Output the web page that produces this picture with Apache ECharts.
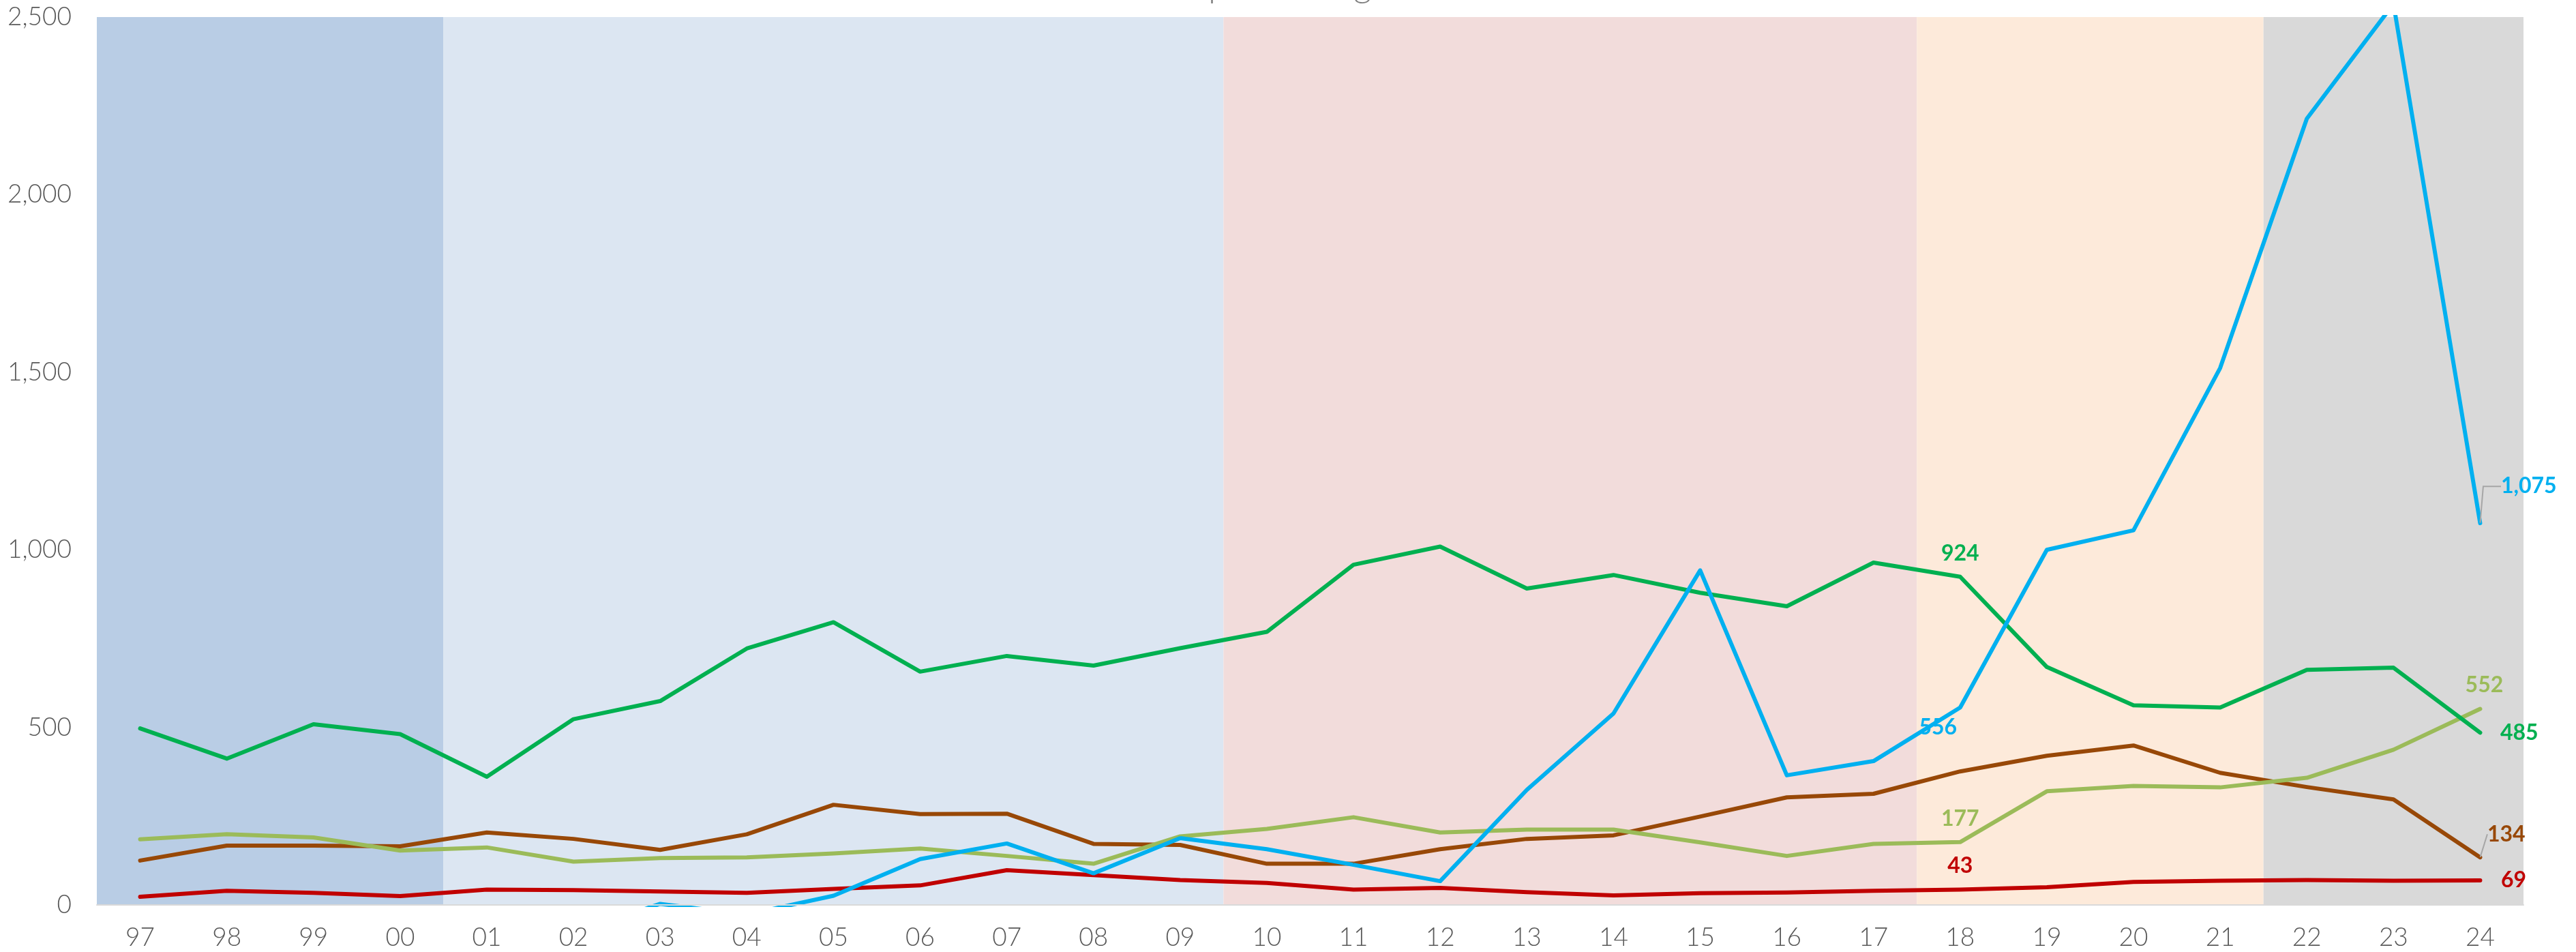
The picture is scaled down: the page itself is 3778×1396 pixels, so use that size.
<!DOCTYPE html>
<html>
<head>
<meta charset="utf-8">
<script src="https://cdn.jsdelivr.net/npm/echarts@6/dist/echarts.min.js"></script>
<style>
  html, body { margin: 0; padding: 0; background: #ffffff; }
  #chart { width: 3778px; height: 1396px; }
</style>
</head>
<body>
<div id="chart"></div>
<script>
// ---- data ----
const categories = ['97','98','99','00','01','02','03','04','05','06','07','08','09','10','11','12','13','14','15','16','17','18','19','20','21','22','23','24'];
const titleText = 'Import Categories';
const yMin = 0, yMax = 2500, yStep = 500;

const eraStart = ['97','01','10','18','22'];
const eraEnd   = ['00','09','17','21','24'];

const greenValues = [497,412,509,481,361,523,574,722,796,657,701,674,723,769,958,1009,891,929,879,841,964,924,670,562,556,662,668,485];
const blueValues  = [null,null,null,null,null,-78,3,-27,26,129,173,89,188,157,113,67,324,539,942,365,405,556,1000,1055,1512,2214,2537,1075];
const brownValues = [125,167,167,165,204,186,155,199,282,256,257,172,169,116,116,157,186,196,249,303,313,376,420,449,372,332,297,134];
const lightGreenValues = [185,199,190,153,162,122,132,134,145,159,138,116,193,214,247,204,212,212,176,138,172,177,320,335,331,358,437,552];
const redValues   = [23,40,34,25,43,42,38,34,45,55,98,84,70,62,43,48,36,27,33,35,40,43,50,65,68,70,68,69];

// labelled points (category of each annotated value)
const labelledGreen = ['18','24'];
const labelledBlue = ['18','24'];
const labelledBrown = ['24'];
const labelledLightGreen = ['18','24'];
const labelledRed = ['18','24'];

// ---- styles ----
const eraColors = ['#B9CDE5','#DCE6F2','#F2DCDB','#FDEADA','#D9D9D9'];
const FONT = 'Lato, "Open Sans", sans-serif';
const fmt = v => Math.round(v).toLocaleString('en-US');

function buildData(values, labelled, color, specs) {
  return values.map((v, i) => {
    const cat = categories[i];
    const k = labelled.indexOf(cat);
    if (k < 0 || v == null) return v;
    const s = specs[k];
    const item = {
      value: v,
      label: Object.assign({
        show: true,
        color: color,
        fontFamily: FONT,
        fontWeight: 'bold',
        fontSize: 32,
        formatter: p => fmt(p.value)
      }, s.label)
    };
    if (s.labelLine) {
      item.labelLine = Object.assign({ show: true, lineStyle: { color: '#A6A6A6', width: 2 } }, s.labelLine);
    }
    return item;
  });
}

function lineSeries(name, values, color, width, labelled, specs, layout) {
  const s = {
    name: name,
    type: 'line',
    data: buildData(values, labelled, color, specs),
    symbol: 'circle',
    symbolSize: 1,
    showSymbol: true,
    showAllSymbol: true,
    itemStyle: { color: color },
    lineStyle: { color: color, width: width, join: 'round', cap: 'round' },
    clip: true,
    silent: true,
    animation: false,
    z: 3
  };
  if (layout) s.labelLayout = layout;
  return s;
}

const idx24 = categories.indexOf('24');

const eraAreas = eraStart.map((s, i) => [
  { xAxis: categories.indexOf(s) - 0.5, itemStyle: { color: eraColors[i] } },
  { xAxis: categories.indexOf(eraEnd[i]) + 0.5 }
]);

const option = {
  backgroundColor: '#ffffff',
  animation: false,
  title: {
    text: titleText,
    left: 1717,
    top: -51,
    padding: 0,
    textStyle: { fontFamily: FONT, fontWeight: 300, fontSize: 52, lineHeight: 60, color: '#7F7F7F' }
  },
  grid: { left: 142, right: 77, top: 25, bottom: 69, containLabel: false },
  xAxis: [
    {
      type: 'category',
      data: categories,
      boundaryGap: true,
      axisLine: { show: true, lineStyle: { color: '#D9D9D9', width: 2 } },
      axisTick: { show: false },
      axisLabel: { color: '#595959', fontFamily: FONT, fontWeight: 300, fontSize: 37, margin: 30 },
      splitLine: { show: false },
      z: 4
    },
    {
      type: 'value',
      min: -0.5,
      max: categories.length - 0.5,
      show: false
    }
  ],
  yAxis: {
    type: 'value',
    min: yMin,
    max: yMax,
    interval: yStep,
    axisLine: { show: false },
    axisTick: { show: false },
    splitLine: { show: false },
    axisLabel: { color: '#595959', fontFamily: FONT, fontWeight: 300, fontSize: 37, margin: 37, formatter: v => fmt(v) }
  },
  series: [
    {
      type: 'line',
      xAxisIndex: 1,
      data: [],
      silent: true,
      markArea: { silent: true, data: eraAreas },
      z: 1
    },
    lineSeries('Red', redValues, '#C00000', 6, labelledRed, [
      { label: { position: 'top', distance: 18 } },
      { label: { position: 'right', distance: 30 } }
    ]),
    lineSeries('Brown', brownValues, '#984807', 6, labelledBrown, [
      { label: { position: 'right', distance: 10 }, labelLine: {} }
    ], p => (p.dataIndex === idx24 ? { dy: -34 } : {})),
    lineSeries('LightGreen', lightGreenValues, '#9BBB59', 6, labelledLightGreen, [
      { label: { position: 'top', distance: 18 } },
      { label: { position: 'top', distance: 18, offset: [6, 0] } }
    ]),
    lineSeries('Green', greenValues, '#00B050', 6, labelledGreen, [
      { label: { position: 'top', distance: 18 } },
      { label: { position: 'right', distance: 29 } }
    ]),
    lineSeries('Blue', blueValues, '#00B0F0', 6, labelledBlue, [
      { label: { position: [-32, 30], align: 'center', verticalAlign: 'middle' } },
      { label: { position: 'right', distance: 30 }, labelLine: { length2: 26 } }
    ], p => (p.dataIndex === idx24 ? { dy: -54 } : {}))
  ]
};

const chart = echarts.init(document.getElementById('chart'), null, { renderer: 'canvas' });
chart.setOption(option);
</script>
</body>
</html>
